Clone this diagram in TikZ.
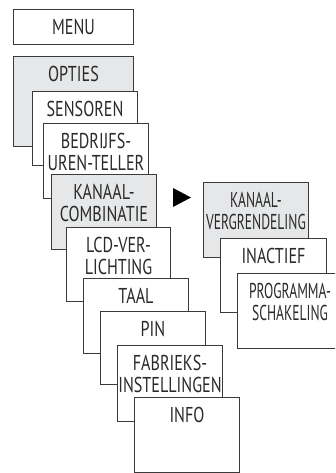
\documentclass[tikz,border=0pt]{standalone}
\usepackage{fontspec}
\setmainfont{PT Sans}[FakeStretch=0.75]
\newfontfamily\narrowfont{PT Sans}[FakeStretch=0.63]
\usetikzlibrary{calc}
\definecolor{linec}{HTML}{3A3A3A}
\definecolor{textc}{HTML}{2A2A2A}
\definecolor{grayfill}{HTML}{E6E7E8}
\begin{document}
\begin{tikzpicture}[x=1pt,y=1pt,
  box/.style={draw=linec, line width=1pt, fill=white, inner sep=0pt, anchor=north west,
    minimum width=105pt, minimum height=75pt},
  graybox/.style={box, fill=grayfill},
  lbl/.style={anchor=north, inner sep=0pt, align=center, text=textc,
    font=\fontsize{21.5}{22}\selectfont}]
\useasboundingbox (0,0) rectangle (335,-473);
\clip (0,0) rectangle (335,-473);

\node[box, minimum width=120pt, minimum height=35pt] (menu) at (13,-9) {};
\node[lbl] (menut) at ($(menu.north)+(0,-10)$) {MENU};

\node[graybox, minimum width=120pt, minimum height=90pt] (opties) at (13,-56) {};
\node[lbl] (optiest) at ($(opties.north)+(0,-10)$) {OPTIES};

\node[box, minimum height=74pt] (sens) at (32,-91) {};
\node[lbl] (senst) at ($(sens.north)+(0,-10)$) {SENSOREN};

\node[box] (bedr) at (43,-123) {};
\node[lbl] (bedrt) at ($(bedr.north)+(0,-10)$) {BEDRIJFS-\\UREN-TELLER};

\node[graybox] (kanaal) at (51,-174) {};
\node[lbl] (kanaalt) at ($(kanaal.north)+(0,-10)$) {KANAAL-\\COMBINATIE};

\node[box, minimum width=104pt, minimum height=74pt] (lcd) at (66,-227) {};
\node[lbl] (lcdt) at ($(lcd.north)+(0,-10)$) {LCD-VER-\\LICHTING};

\node[box] (taal) at (83,-278) {};
\node[lbl] (taalt) at ($(taal.north)+(0,-10)$) {TAAL};

\node[box, minimum height=73pt] (pin) at (100,-311) {};
\node[lbl] (pint) at ($(pin.north)+(0,-10)$) {PIN};

\node[box, minimum height=76pt] (fabr) at (117,-345) {};
\node[lbl] (fabrt) at ($(fabr.north)+(0,-10)$) {FABRIEKS-\\INSTELLINGEN};

\node[box] (info) at (134,-397) {};
\node[lbl] (infot) at ($(info.north)+(0,-10)$) {INFO};

\fill[black] (173,-188) -- (191,-197.5) -- (173,-207) -- cycle;

\node[graybox] (kv) at (203,-182) {};
\node[lbl, font=\narrowfont\fontsize{21.5}{22}\selectfont] (kvt) at ($(kv.north)+(0,-10)$) {KANAAL-\\VERGRENDELING};

\node[box, minimum width=106pt, minimum height=74pt] (inact) at (220,-238) {};
\node[lbl] (inactt) at ($(inact.north)+(0,-10)$) {INACTIEF};

\node[box] (prog) at (237,-273) {};
\node[lbl, font=\narrowfont\fontsize{21.5}{22}\selectfont] (progt) at ($(prog.north)+(0,-10)$) {PROGRAMMA-\\SCHAKELING};
\end{tikzpicture}
\end{document}
